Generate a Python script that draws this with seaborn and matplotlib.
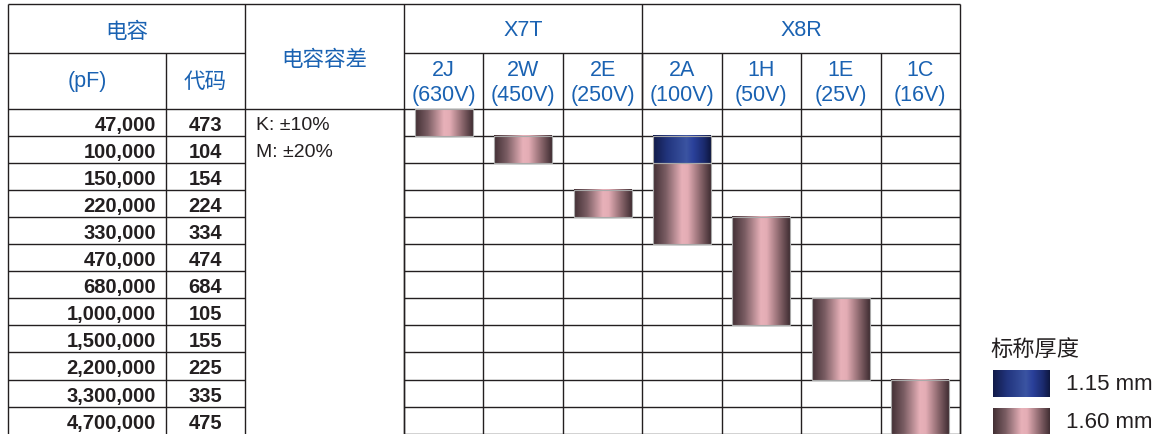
import numpy as np
import pandas as pd
import matplotlib.pyplot as plt
import seaborn as sns
from matplotlib.colors import LinearSegmentedColormap

sns.set_theme(style='white')
plt.rcParams['font.family'] = ['Liberation Sans', 'Noto Sans CJK SC']

# table data
capacitance = ['47,000', '100,000', '150,000', '220,000', '330,000', '470,000',
               '680,000', '1,000,000', '1,500,000', '2,200,000', '3,300,000', '4,700,000']
codes = ['473', '104', '154', '224', '334', '474', '684', '105', '155', '225', '335', '475']
tolerance = ['K: ±10%', 'M: ±20%']
voltage_codes = ['2J', '2W', '2E', '2A', '1H', '1E', '1C']
voltages = ['(630V)', '(450V)', '(250V)', '(100V)', '(50V)', '(25V)', '(16V)']
dielectrics = ['X7T', 'X8R']
dielectric_cols = [3, 4]

# 1.60 mm thickness: first row and number of rows per voltage column
pink_start = [0, 1, 3, 2, 4, 7, 10]
pink_rows = [1, 1, 1, 3, 4, 3, 2]
# 1.15 mm thickness
blue_code = ['2A']
blue_start = [1]
blue_rows = [1]
legend_title = '标称厚度'
legend_labels = ['1.15 mm', '1.60 mm']

# colours
BLUE_TXT = '#1a62b2'
DARK = '#231f20'
pink_cmap = LinearSegmentedColormap.from_list('pink', [
    (0, '#422f34'), (0.22, '#7a5d63'), (0.5, '#e8b1b9'), (0.6, '#e4adb5'),
    (0.82, '#8a666c'), (1, '#412e33')])
blue_cmap = LinearSegmentedColormap.from_list('blue', [
    (0, '#111a48'), (0.25, '#22357e'), (0.58, '#3b54a2'), (0.7, '#2a409a'),
    (0.88, '#1b2b6e'), (1, '#0e1740')])

# layout (pixels)
W, H = 1156, 435
TOP, HDR1, HDR2 = 5, 54, 110
ROW_H = 27.05
X_L, X_CODE, X_TOL, X_GRID, X_R = 8, 166, 245, 404, 960
COL_W = (X_R - X_GRID) / len(voltage_codes)

fig = plt.figure(figsize=(11.56, 4.35), dpi=100)
bg = fig.add_axes([0, 0, 1, 1])
bg.set_xlim(0, W)
bg.set_ylim(H, 0)
bg.axis('off')

ax = fig.add_axes([X_GRID / W, 0, (X_R - X_GRID) / W, (H - HDR2) / H])
n_vis = (H - HDR2) / ROW_H

df_pink = pd.DataFrame({'code': voltage_codes, 'rows': pink_rows})
df_blue = pd.DataFrame({'code': blue_code, 'rows': blue_rows})
sns.barplot(data=df_pink, x='code', y='rows', order=voltage_codes, width=0.73,
            bottom=pink_start, color='#e8b1b9', errorbar=None, ax=ax)
n_pink = len(ax.patches)
sns.barplot(data=df_blue, x='code', y='rows', order=voltage_codes, width=0.73,
            bottom=blue_start, color='#3b54a2', errorbar=None, ax=ax)

# cylinder shading on every bar
grad = np.linspace(0, 1, 256).reshape(1, -1)
for i, p in enumerate(ax.patches):
    x, y = p.get_xy()
    w, h = p.get_width(), p.get_height()
    cmap = pink_cmap if i < n_pink else blue_cmap
    ax.imshow(grad, cmap=cmap, extent=[x, x + w, y + h, y], aspect='auto',
              interpolation='bilinear', zorder=2)
    p.set_facecolor('none')
    p.set_edgecolor('#a9a9a9')
    p.set_linewidth(0.8)
    p.set_zorder(3)

# grid of the voltage columns
ax.hlines(np.arange(1, len(capacitance) + 1), -0.5, len(voltage_codes) - 0.5,
          color=DARK, lw=1.0, zorder=1)
ax.vlines(np.arange(len(voltage_codes) + 1) - 0.5, 0, n_vis, color=DARK, lw=1.0,
          zorder=1, clip_on=False)
ax.set_xlim(-0.5, len(voltage_codes) - 0.5)
ax.set_ylim(n_vis, 0)
ax.axis('off')

# left part of the table
lkw = dict(color=DARK, lw=1.0)
bg.hlines([TOP, HDR2], X_L, X_R, **lkw)
bg.hlines(HDR1, X_L, X_TOL, **lkw)
bg.hlines(HDR1, X_GRID, X_R, **lkw)
bg.hlines([HDR2 + ROW_H * k for k in range(1, len(capacitance))], X_L, X_TOL, **lkw)
bg.vlines([X_L, X_TOL, X_GRID, X_R], TOP, H, **lkw)
bg.vlines(X_CODE, HDR1, H, **lkw)
bg.vlines(X_GRID + COL_W * 3, TOP, HDR2, **lkw)
bg.vlines([X_GRID + COL_W * k for k in range(1, 7)], HDR1, HDR2, **lkw)

hkw = dict(color=BLUE_TXT, fontsize=15.5, ha='center', va='center')
bg.text((X_L + X_TOL) / 2, 32, '电容', **hkw)
bg.text((X_L + X_CODE) / 2, 82, '(pF)', **hkw)
bg.text((X_CODE + X_TOL) / 2, 82, '代码', **hkw)
bg.text((X_TOL + X_GRID) / 2, 60, '电容容差', **hkw)
c0 = 0
for name, n in zip(dielectrics, dielectric_cols):
    bg.text(X_GRID + COL_W * (c0 + n / 2), 30, name, **hkw)
    c0 += n
for k, (vc, v) in enumerate(zip(voltage_codes, voltages)):
    cx = X_GRID + COL_W * (k + 0.5)
    bg.text(cx, 70, vc, **hkw)
    bg.text(cx, 95, v, **hkw)

for i, (cap, code) in enumerate(zip(capacitance, codes)):
    yc = HDR2 + ROW_H * (i + 0.5) + 2
    bg.text(X_CODE - 10, yc, cap, color=DARK, fontsize=14.5, fontweight='bold',
            ha='right', va='center')
    bg.text((X_CODE + X_TOL) / 2, yc, code, color=DARK, fontsize=14.5,
            fontweight='bold', ha='center', va='center')
for i, t in enumerate(tolerance):
    bg.text(X_TOL + 11, HDR2 + ROW_H * (i + 0.5) + 1.5, t, color=DARK,
            fontsize=14, ha='left', va='center')

# legend
bg.text(990, 350, legend_title, color=DARK, fontsize=16, ha='left', va='center')
for j, (lab, cmap) in enumerate(zip(legend_labels, [blue_cmap, pink_cmap])):
    y0 = 371 + 38 * j
    bg.imshow(grad, cmap=cmap, extent=[993, 1050, y0 + 27, y0], aspect='auto',
              interpolation='bilinear')
    bg.text(1066, y0 + 14, lab, color=DARK, fontsize=16, ha='left', va='center')
bg.set_xlim(0, W)
bg.set_ylim(H, 0)

fig.savefig('out.png', dpi=100)
